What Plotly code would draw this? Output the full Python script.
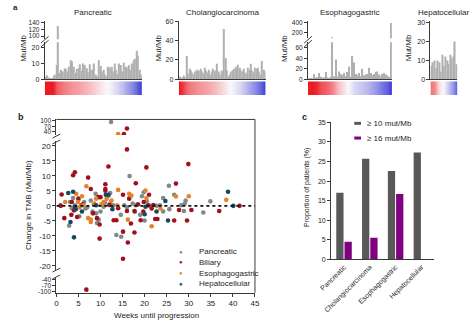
import plotly.graph_objects as go

W, H = 474, 323
def px(x): return x / W
def py(y): return 1 - y / H

FONT = "Liberation Sans, Arial, Helvetica, sans-serif"
AX = "#3a3a3a"
TXT = "#1e1e1e"
BAR_A = "rgb(176,176,176)"

# ---------------- panel a data ----------------
tumor_types = ["Pancreatic", "Cholangiocarcinoma", "Esophagogastric", "Hepatocellular"]
pan_tmb = [1.5, 2.5, 1.2, 0.8, 0.5, 2.0, 3.0, 9.0, 130, 4.0, 6.0, 5.0, 7.0, 6.5, 5.0, 8.0,
           12.0, 11.5, 8.0, 4.0, 6.5, 7.0, 9.5, 5.5, 10.0, 9.0, 7.0, 4.5, 9.5, 6.0, 6.0, 10.0,
           3.0, 2.0, 12.0, 8.5, 5.0, 6.0, 3.0, 2.0, 8.0, 7.5, 8.0, 5.0, 10.0, 6.0, 3.5, 10.0,
           9.0, 5.0, 10.5, 8.0, 7.5, 9.0, 6.0, 10.0, 12.0, 13.0, 18.0, 15.0, 6.0, 3.0]
chol_tmb = [3, 1, 2, 4, 2, 24, 6, 11, 9, 7, 5, 8, 10, 7, 9, 11, 8, 6, 12, 9, 7, 10, 5, 8, 11,
            9, 6, 16, 8, 5, 9, 7, 52, 22, 9, 3, 5, 8, 9, 11, 13, 10, 15, 12, 9, 8, 11, 7, 6,
            12, 10, 16, 9, 7, 12, 11, 12, 8, 5, 19, 10, 8]
eso_tmb = [2, 3, 2, 10, 3, 4, 12, 5, 3, 4, 14, 4, 3, 5, 100, 6, 38, 5, 15, 10, 8, 12, 6, 14,
           24, 5, 45, 32, 10, 8, 12, 6, 20, 8, 9, 10, 22, 12, 8, 10, 14, 15, 9, 6, 10, 12, 9,
           7, 5, 390]
hep_tmb = [7, 9, 10, 6, 10, 9, 4, 13, 7, 12, 10, 8, 13, 11, 12, 20, 8]

pan_heat = [-1, -1, -1, -0.7, -0.62, -0.55, -0.5, -0.45, -0.42, -0.38, -0.33, -0.28, -0.22,
            -0.16, -0.1, -0.05, 0.0, 0.05, 0.12, 0.2, 0.28, 0.4, 0.5, 0.62, 0.75, 0.95]
chol_heat = [-1, -0.85, -0.65, -0.55, -0.5, -0.45, -0.42, -0.38, -0.33, -0.28, -0.22, -0.15,
             -0.08, 0.0, 0.05, 0.12, 0.2, 0.3, 0.4, 0.5, 0.6, 0.75, 0.9]
eso_heat = [-1, -1, -0.95, -0.75, -0.7, -0.62, -0.5, -0.3, -0.15, -0.05, 0.05, 0.15, 0.2,
            0.25, 0.3, 0.38, 0.45, 0.55, 0.65, 0.75, 1.0]
hep_heat = [-0.6, -0.5, -0.15, 0.0, 0.1, 0.3, 0.5, 0.8]

# ---------------- panel b data ----------------
pan_w = [0.9, 2.9, 3.1, 3.8, 4.2, 5.2, 5.6, 6.3, 6.6, 7.8, 8.2, 8.9, 9.0, 9.2, 9.6, 10.0, 10.7,
         11.8, 12.2, 12.4, 12.2, 12.9, 13.6, 14.7, 14.6, 15.4, 16.6, 17.3, 18.0, 19.0, 19.4,
         19.8, 20.0, 21.3, 22.7, 23.5, 24.2, 24.2, 25.5, 25.6, 26.7, 28.3, 28.9, 29.3, 29.1,
         33.3, 34.9, 5.0, 7.0, 8.5, 11.0, 16.0, 17.8, 20.5, 3.5]
pan_d = [0.2, -6.6, 1.3, 2.6, 0.2, -3.5, 0.2, 1.3, -0.9, 1.8, -1.9, 4.0, -2.5, -5.7, -4.6, -1.9,
         -0.3, 3.4, 4.3, 93, 0.8, 0.2, -9.7, -10.3, -3.0, 0.2, 9.9, 0.8, 0.2, -3.0, 3.2, 4.5,
         -4.9, 0.0, 0.0, 0.2, -1.9, 2.6, 6.7, -1.1, 3.7, 0.2, -1.7, 1.8, 0.8, -2.2, 1.5, 2.0,
         -0.5, 0.5, 1.0, -0.5, -2.0, 1.5, -0.8]
bil_w = [1.0, 1.2, 1.8, 3.8, 4.2, 3.5, 3.4, 5.0, 4.7, 7.2, 7.8, 9.2, 9.8, 9.8, 9.5, 10.0, 11.1,
         11.1, 11.1, 11.8, 13.0, 13.6, 15.1, 15.1, 15.1, 16.0, 16.2, 16.0, 16.5, 16.9, 18.0,
         17.7, 17.7, 19.1, 19.7, 19.8, 20.4, 21.0, 21.6, 22.4, 22.9, 26.7, 27.1, 27.8, 29.6,
         29.9, 30.6, 36.9, 41.5, 6.8, 15.3, 16.0, 4.0, 6.0, 12.0, 14.0, 18.5, 20.8, 22.0, 8.3]
bil_d = [0.0, 3.8, -4.1, 10.2, 11.2, 1.3, -3.0, 2.4, -3.7, 9.4, 5.6, -4.1, -6.2, -10.9, 2.9,
         2.9, 7.2, 5.6, 5.0, 13.1, -4.8, -4.8, 3.7, -8.6, -17.6, -1.7, -12.2, 18.8, 2.4, -5.9,
         7.5, -8.9, -1.7, -4.8, -1.9, 1.3, 12.8, 3.7, -0.9, -4.4, -4.4, -4.9, 7.4, -1.4, -4.9,
         13.9, -1.4, -1.7, 0.0, -90, 28, 58, -1.5, 0.5, 0.3, -0.8, 0.5, 0.2, 0.3, -2.5]
eso_w = [2.0, 4.5, 4.9, 5.8, 6.1, 6.8, 7.2, 7.8, 7.8, 8.6, 9.0, 10.7, 11.4, 14.0, 13.8, 16.5,
         17.0, 16.2, 20.2, 20.4, 21.6, 23.6, 27.1, 30.0, 38.5, 14.0, 5.3, 10.2, 12.5]
eso_d = [1.3, 4.0, 1.3, 3.2, 0.2, 6.5, -4.1, -5.4, -4.6, 0.8, 2.4, 1.3, 2.4, 5.3, 0.2, 4.0,
         3.4, -4.6, 5.1, 2.6, -6.8, -0.9, 3.1, 3.2, 2.0, 28, -0.5, 0.5, 1.8]
hep_w = [2.7, 3.2, 3.8, 4.0, 4.2, 4.4, 5.8, 9.0, 11.2, 11.8, 12.7, 20.0, 20.2, 22.7, 24.7,
         25.3, 38.9, 40.1]
hep_d = [4.3, -5.4, 4.7, -10.5, -0.3, -1.1, -1.9, 0.2, 3.7, 3.7, -1.1, -2.8, -0.3, -1.9, 1.6,
         -4.9, 4.7, 0.0]
group_names = ["Pancreatic", "Biliary", "Esophagogastric", "Hepatocellular"]
group_colors = ["rgb(128,138,140)", "rgb(160,16,28)", "rgb(226,132,42)", "rgb(24,72,96)"]

# ---------------- panel c data ----------------
pct_10 = [17.0, 25.7, 22.6, 27.3]
pct_16 = [4.5, 5.5, 16.7, 0.0]
c_labels = ["\u2265 10 mut/Mb", "\u2265 16 mut/Mb"]
c_colors = ["rgb(88,88,88)", "rgb(128,0,128)"]

HEAT_CS = [[0.0, "rgb(236,26,34)"], [0.5, "rgb(250,248,250)"], [1.0, "rgb(40,40,210)"]]

traces = []
layout = {}
def xn(n): return "xaxis" if n == 1 else f"xaxis{n}"
def yn(n): return "yaxis" if n == 1 else f"yaxis{n}"
def xr(n): return "x" if n == 1 else f"x{n}"
def yr(n): return "y" if n == 1 else f"y{n}"

def yax(**kw):
    d = dict(showgrid=False, zeroline=False, showline=True, linecolor=AX, linewidth=1,
             ticks="outside", ticklen=3, tickwidth=1, tickcolor=AX, fixedrange=True,
             tickfont=dict(size=7, color=TXT, family=FONT))
    d.update(kw)
    return d

def add_bars(vals, n, x0, x1, y_bot, y_top, yrng, tvals, bottom_line, tsize=7):
    traces.append(go.Bar(x=list(range(len(vals))), y=vals, width=0.78,
                         marker=dict(color=BAR_A, line=dict(width=0)),
                         xaxis=xr(n), yaxis=yr(n), hoverinfo="skip", showlegend=False))
    layout[xn(n)] = dict(domain=[px(x0), px(x1)], anchor=yr(n), range=[-0.6, len(vals) - 0.4],
                         showline=bottom_line, linecolor=AX, linewidth=1.3, ticks="",
                         showticklabels=False, showgrid=False, zeroline=False, fixedrange=True)
    layout[yn(n)] = yax(domain=[py(y_bot), py(y_top)], anchor=xr(n), range=yrng, tickvals=tvals,
                        tickfont=dict(size=tsize, color=TXT, family=FONT))

def add_heat(z, n, x0, x1):
    traces.append(go.Heatmap(z=[z, z], x=list(range(len(z))), y=[0, 1], colorscale=HEAT_CS,
                             zmin=-1, zmax=1, zsmooth="best", showscale=False,
                             xaxis=xr(n), yaxis=yr(n), hoverinfo="skip"))
    layout[xn(n)] = dict(domain=[px(x0), px(x1)], anchor=yr(n), range=[0, len(z) - 1], visible=False)
    layout[yn(n)] = dict(domain=[py(93), py(79)], anchor=xr(n), range=[0, 1], visible=False)

# panel a
add_bars(pan_tmb, 1, 34, 135, 77, 39, [0, 23.5], [0, 10, 20], True)
add_bars(pan_tmb, 2, 34, 135, 36, 17, [91, 146], [100, 120, 140], False, 6.5)
add_heat(pan_heat, 3, 34, 135)
add_bars(chol_tmb, 4, 173, 263, 77, 17, [0, 60.6], [0, 20, 40, 60], True)
add_heat(chol_heat, 5, 173, 263)
add_bars(eso_tmb, 6, 307, 394, 77, 39, [0, 71], [0, 20, 40, 60], True, 6.5)
add_bars(eso_tmb, 7, 307, 394, 35, 17, [80, 440], [200, 400], False, 6.5)
add_heat(eso_heat, 8, 307, 394)
add_bars(hep_tmb, 9, 434, 462, 77, 17, [0, 31], [0, 10, 20, 30], True)
add_heat(hep_heat, 10, 434, 462)

# panel b
b_data = [(pan_w, pan_d), (bil_w, bil_d), (eso_w, eso_d), (hep_w, hep_d)]
segs = [(11, lambda v: v <= -25), (12, lambda v: -25 < v < 23), (13, lambda v: v >= 23)]
for (w, d), nm, col in zip(b_data, group_names, group_colors):
    for n, cond in segs:
        xs = [a for a, b in zip(w, d) if cond(b)]
        ys = [b for a, b in zip(w, d) if cond(b)]
        traces.append(go.Scatter(x=xs, y=ys, mode="markers", name=nm,
                                 marker=dict(size=4.6, color=col, line=dict(width=0)),
                                 xaxis="x11", yaxis=yr(n), showlegend=False, hoverinfo="skip"))

def hy(v):
    return [("-" + str(abs(t))) if t < 0 else str(t) for t in v]

layout["xaxis11"] = yax(domain=[px(46), px(252)], anchor="y11", range=[0, 45], tick0=0, dtick=5,
                        tickfont=dict(size=8, color=TXT, family=FONT))
tv11 = [-40, -70, -100]
layout["yaxis11"] = yax(domain=[py(295), py(279)], anchor="x11", range=[-105, -25],
                        tickvals=tv11, ticktext=hy(tv11), tickfont=dict(size=6.5, color=TXT, family=FONT))
tv12 = [-20, -15, -10, -5, 0, 5, 10, 15, 20]
layout["yaxis12"] = yax(domain=[py(272), py(140)], anchor="x11", range=[-21.4, 21.6],
                        tickvals=tv12, ticktext=hy(tv12), tickfont=dict(size=8, color=TXT, family=FONT))
tv13 = [40, 70, 100]
layout["yaxis13"] = yax(domain=[py(134), py(118)], anchor="x11", range=[23, 107],
                        tickvals=tv13, tickfont=dict(size=6.5, color=TXT, family=FONT))

# panel c
for vals, nm, col in zip([pct_10, pct_16], c_labels, c_colors):
    traces.append(go.Bar(x=tumor_types, y=vals, name=nm, marker=dict(color=col, line=dict(width=0)),
                         xaxis="x14", yaxis="y14", showlegend=False, hoverinfo="skip"))
layout["xaxis14"] = yax(domain=[px(331), px(438)], anchor="y14", ticks="", tickangle=-45,
                        tickfont=dict(size=7, color=TXT, family=FONT))
layout["yaxis14"] = yax(domain=[py(261), py(121)], anchor="x14", range=[0, 35], dtick=5,
                        tickfont=dict(size=7, color=TXT, family=FONT))

# ---------------- annotations ----------------
ann = []
def text(t, x, y, size=8, xa="center", ya="middle", angle=0, color=TXT, bold=False):
    ann.append(dict(text=("<b>%s</b>" % t) if bold else t, x=px(x), y=py(y), xref="paper",
                    yref="paper", xanchor=xa, yanchor=ya, showarrow=False, textangle=angle,
                    font=dict(size=size, color=color, family=FONT)))

for t, cx in zip(tumor_types, [84.5, 218, 350.5, 448]):
    text(t, cx, 9, size=8)
for lx in [11, 151, 282, 411]:
    text("Mut/Mb", lx, 45, size=8, angle=-90)
text("a", 4, 4, size=8, bold=True)
text("b", 9, 115, size=9, bold=True)
text("c", 303, 116, size=9, bold=True)
text("Change in TMB (Mut/Mb)", 17, 205, size=8, angle=-90)
text("Weeks until progression", 150, 318, size=8)
text("Proportion of patients (%)", 306, 188, size=7, angle=-90)

for i, (nm, col) in enumerate(zip(group_names, group_colors)):
    yy = 253 + 11 * i
    text("\u25cf", 175, yy, size=6, color=col)
    text(nm, 192, yy, size=8, xa="left")

shapes = []
for i, (nm, col) in enumerate(zip(c_labels, c_colors)):
    yy = 122 + 15 * i
    shapes.append(dict(type="line", xref="paper", yref="paper", x0=px(355), x1=px(362),
                       y0=py(yy), y1=py(yy), line=dict(color=col, width=3)))
    text(nm, 366, yy, size=8, xa="left")

def seg(x0, y0, x1, y1, w=1, col=AX, dash=None, xref="paper", yref="paper"):
    ln = dict(color=col, width=w)
    if dash:
        ln["dash"] = dash
    shapes.append(dict(type="line", xref=xref, yref=yref, x0=x0, x1=x1, y0=y0, y1=y1, line=ln))

# panel b frame (top & right) and zero line
seg(px(46), py(118), px(252), py(118))
seg(px(252), py(118), px(252), py(295))
seg(0, 0, 45, 0, w=1.6, col="#111111", dash="dot", xref="x11", yref="y12")
# break marks panel b
for (a, b) in [(137, 133), (143, 139), (274, 270), (281, 277)]:
    seg(px(42), py(a), px(50), py(b))
# break marks panel a
for ax0 in [34, 307]:
    seg(px(ax0 - 4), py(40), px(ax0 + 4), py(33))
    seg(px(ax0 - 4), py(44), px(ax0 + 4), py(37))

layout.update(dict(width=W, height=H, margin=dict(l=0, r=0, t=0, b=0),
                   paper_bgcolor="white", plot_bgcolor="white", showlegend=False,
                   barmode="group", bargap=0.36, bargroupgap=0.12,
                   font=dict(family=FONT, size=8, color=TXT),
                   annotations=ann, shapes=shapes))

fig = go.Figure(data=traces, layout=layout)
fig.write_html("out.html")
